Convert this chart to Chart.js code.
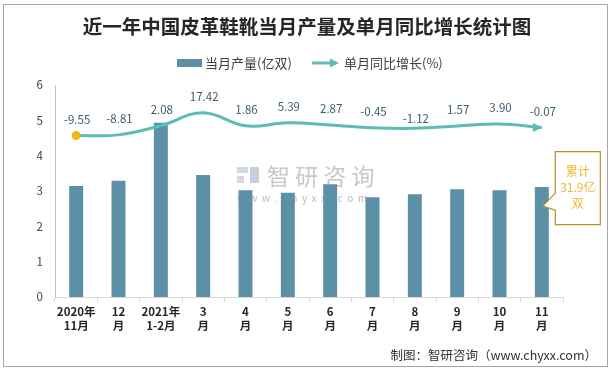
<!DOCTYPE html>
<html>
<head>
<meta charset="utf-8">
<script src="https://cdn.jsdelivr.net/npm/chart.js@4.4.0/dist/chart.umd.min.js"></script>
<style>
  body { margin: 0; background: #fff; }
  canvas { display: block; }
</style>
</head>
<body>
<canvas id="chartShoes" width="613" height="371"></canvas>
<script>
const categories = [
  ['2020年', '11月'], ['12', '月'], ['2021年', '1-2月'], ['3', '月'], ['4', '月'], ['5', '月'],
  ['6', '月'], ['7', '月'], ['8', '月'], ['9', '月'], ['10', '月'], ['11', '月']
];
// 当月产量(亿双)
const output = [3.14, 3.29, 4.93, 3.45, 3.02, 2.95, 3.19, 2.82, 2.91, 3.05, 3.02, 3.11];
// 单月同比增长(%)
const growth = [-9.55, -8.81, 2.08, 17.42, 1.86, 5.39, 2.87, -0.45, -1.12, 1.57, 3.90, -0.07];
const yTicks = [0, 1, 2, 3, 4, 5, 6];
const totalText = ['累计', '31.9亿', '双'];

const barColor = '#5b90a7';
const lineColor = '#5dbdb2';
const dotColor = '#f4b41c';
const cjk = '"Noto Sans CJK SC", "Noto Sans", sans-serif';

const decor = {
  id: 'decor',
  beforeDraw(chart) {
    const c = chart.ctx;
    c.save();
    c.fillStyle = '#fff';
    c.fillRect(0, 0, chart.width, chart.height);
    c.strokeStyle = '#a6a6a6';
    c.lineWidth = 1;
    c.strokeRect(3.5, 4.5, 604, 362);

    // 标题
    c.fillStyle = '#262626';
    c.font = 'bold 19.5px ' + cjk;
    c.textAlign = 'center';
    c.textBaseline = 'middle';
    c.fillText('近一年中国皮革鞋靴当月产量及单月同比增长统计图', 307, 27);

    // 图例
    c.font = '13px ' + cjk;
    c.textAlign = 'left';
    c.fillStyle = barColor;
    c.fillRect(177, 59, 25, 8);
    c.fillStyle = '#404040';
    c.fillText('当月产量(亿双)', 205, 63);
    c.strokeStyle = lineColor;
    c.lineWidth = 3;
    c.beginPath();
    c.moveTo(312, 63);
    c.lineTo(332, 63);
    c.stroke();
    c.fillStyle = lineColor;
    c.beginPath();
    c.moveTo(339, 63);
    c.lineTo(330, 58.5);
    c.lineTo(330, 67.5);
    c.closePath();
    c.fill();
    c.fillStyle = '#404040';
    c.fillText('单月同比增长(%)', 344, 63);

    // 来源
    c.font = '12.5px ' + cjk;
    c.textAlign = 'right';
    c.fillStyle = '#333';
    c.fillText('制图：智研咨询（www.chyxx.com）', 597, 355);
    c.restore();
  },
  beforeDatasetsDraw(chart) {
    // 水印
    const c = chart.ctx;
    c.save();
    c.fillStyle = '#d3d8e4';
    c.fillRect(237, 167, 11, 6);
    c.fillRect(237, 176, 7, 7);
    c.fillStyle = '#c5cfe0';
    c.fillRect(250, 167, 9, 16);
    c.fillStyle = '#c8c8c8';
    c.font = '23px ' + cjk;
    c.textAlign = 'left';
    c.textBaseline = 'middle';
    c.fillText('智 研 咨 询', 267, 176);
    c.font = '10px ' + cjk;
    c.fillStyle = '#bdbdbd';
    c.fillText('w  w  w  .  c  h  y  x  x  .  c  o  m', 237, 198);
    c.restore();
  },
  afterDatasetsDraw(chart) {
    const c = chart.ctx;
    const lineMeta = chart.getDatasetMeta(1);
    const pts = lineMeta.data;
    c.save();

    // 箭头
    const last = pts[pts.length - 1];
    c.fillStyle = lineColor;
    c.beginPath();
    c.moveTo(last.x + 1, last.y);
    c.lineTo(last.x - 9, last.y - 4.5);
    c.lineTo(last.x - 9, last.y + 4.5);
    c.closePath();
    c.fill();

    // 起点圆点
    c.fillStyle = dotColor;
    c.beginPath();
    c.arc(pts[0].x, pts[0].y, 4.5, 0, Math.PI * 2);
    c.fill();

    // 数据标签
    c.font = '11.5px ' + cjk;
    c.fillStyle = '#3d5d6b';
    c.textAlign = 'center';
    c.textBaseline = 'middle';
    pts.forEach((p, i) => {
      const lift = growth[i] === Math.min(...growth.slice(2)) ? 10 : 16;
      c.fillText(growth[i].toFixed(2), p.x + 1, p.y - lift);
    });

    // 累计标注
    const bar = chart.getDatasetMeta(0).data[output.length - 1];
    const tipX = bar.x + 1, tipY = bar.y + 19;
    const bx = tipX + 12.5, by = tipY - 54.5, bw = 45, bh = 73;
    c.fillStyle = '#fff';
    c.strokeStyle = '#b8902e';
    c.lineWidth = 1.2;
    c.beginPath();
    c.moveTo(bx, by);
    c.lineTo(bx + bw, by);
    c.lineTo(bx + bw, by + bh);
    c.lineTo(bx, by + bh);
    c.lineTo(bx, tipY + 4);
    c.lineTo(tipX, tipY);
    c.lineTo(bx, tipY - 13);
    c.closePath();
    c.fill();
    c.stroke();
    c.fillStyle = '#f2b631';
    c.font = '12px ' + cjk;
    totalText.forEach((t, i) => {
      c.fillText(t, bx + bw / 2, by + 20 + i * 16);
    });
    c.restore();
  }
};

new Chart(document.getElementById('chartShoes').getContext('2d'), {
  type: 'bar',
  data: {
    labels: categories,
    datasets: [
      {
        label: '当月产量(亿双)',
        data: output,
        backgroundColor: barColor,
        categoryPercentage: 1,
        barPercentage: 0.33,
        yAxisID: 'y',
        order: 2
      },
      {
        type: 'line',
        label: '单月同比增长(%)',
        data: growth,
        borderColor: lineColor,
        borderWidth: 3,
        tension: 0.4,
        pointRadius: 0,
        fill: false,
        yAxisID: 'y2',
        order: 1
      }
    ]
  },
  options: {
    responsive: false,
    animation: false,
    layout: { padding: { top: 85, right: 50, left: 0, bottom: 0 } },
    plugins: {
      legend: { display: false },
      title: { display: false },
      tooltip: { enabled: false }
    },
    scales: {
      x: {
        grid: {
          display: true, drawOnChartArea: false, drawTicks: true,
          tickLength: 5, offset: true, color: '#d9d9d9'
        },
        border: { display: true, color: '#d9d9d9' },
        ticks: {
          color: '#262626',
          font: { family: cjk, size: 11.5, weight: 'bold' },
          padding: 3,
          maxRotation: 0,
          autoSkip: false
        },
        afterFit(scale) { scale.height = 74; }
      },
      y: {
        min: yTicks[0],
        max: yTicks[yTicks.length - 1],
        afterBuildTicks(scale) { scale.ticks = yTicks.map(v => ({ value: v })); },
        grid: { display: false, drawTicks: false },
        border: { display: true, color: '#bfbfbf' },
        ticks: {
          color: '#404040',
          font: { family: cjk, size: 11.5 },
          padding: 12
        },
        afterFit(scale) { scale.width = 55; }
      },
      y2: {
        display: false,
        min: -200,
        max: 50
      }
    }
  },
  plugins: [decor]
});
</script>
</body>
</html>
